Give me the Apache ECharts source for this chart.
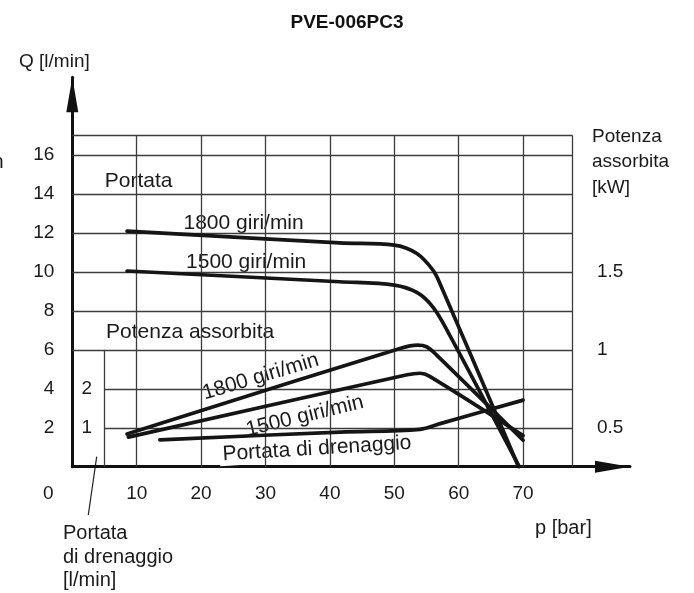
<!DOCTYPE html>
<html>
<head>
<meta charset="utf-8">
<script src="https://cdn.jsdelivr.net/npm/echarts@6/dist/echarts.min.js"></script>
<style>
html,body{margin:0;padding:0;background:#fff;}
#c{width:694px;height:593px;}
</style>
</head>
<body>
<div id="c"></div>
<script>
// ---------- data ----------
// pressure p [bar], flow Q [l/min]
var flow1800 = [[8.5,12.1],[41.5,11.5],[50,11.38],[53.5,10.95],[56,10.1],[57.1,9.4],[69.3,0]];
var flow1500 = [[8.5,10.05],[41.5,9.5],[50,9.33],[53.5,8.95],[56,8.2],[58.2,7.0],[69.4,0]];
// absorbed power [kW]
var power1800 = [[8.5,0.46],[51,1.01],[53.6,1.03],[55,1.02],[56.5,0.97],[70,0.42]];
var power1500 = [[8.7,0.44],[52,0.84],[54,0.85],[55.5,0.83],[70,0.45]];
// drainage flow [l/min]
var drain = [[13.6,0.69],[41.6,0.89],[54,0.96],[57,1.1],[70,1.71]];

var xTicks = [0,10,20,30,40,50,60,70];
var qTicks = [2,4,6,8,10,12,14,16];
var kwTicks = [0.5,1,1.5];
var drainTicks = [1,2];

// ---------- layout helpers ----------
var X_MAX = 86.6, Q_MAX = 20, Q_TOP = 17, X_BORDER = 77.7, DRAIN_AXIS_X = 4.92, DRAIN_AXIS_TOP = 6;
var KW_AT_Q0 = 0.25, KW_PER_Q = 1/8;   // right scale: kW = 0.25 + Q/8
var DRAIN_PER_Q = 0.5;                  // drain scale: l/min = Q/2

var FONT = '"Liberation Sans", Arial, Helvetica, sans-serif';
var TXT = '#1a1a1a', GRID = '#3c3c3c';

// grid lines as marklines
var gridLines = [];
function seg(x1,y1,x2,y2){ gridLines.push([{coord:[x1,y1]},{coord:[x2,y2]}]); }
qTicks.forEach(function(q){
  if (q < DRAIN_AXIS_TOP) seg(DRAIN_AXIS_X,q,X_BORDER,q); else seg(0,q,X_BORDER,q);
});
seg(0,Q_TOP,X_BORDER,Q_TOP);
xTicks.forEach(function(x){ if (x>0) seg(x,0,x,Q_TOP); });
seg(X_BORDER,0,X_BORDER,Q_TOP);
seg(DRAIN_AXIS_X,0,DRAIN_AXIS_X,DRAIN_AXIS_TOP);

// in-plot annotations [text, p, Q, rotate]
var notes = [
  ['Portata', 10.3, 14.64, 0],
  ['1800 giri/min', 26.6, 12.5, 0],
  ['1500 giri/min', 27.0, 10.5, 0],
  ['Potenza assorbita', 18.3, 6.93, 0],
  ['1800 giri/min', 29.25, 4.62, 16.7],
  ['1500 giri/min', 36.1, 2.6, 13.7],
  ['Portata di drenaggio', 38.0, 0.92, 3.5]
];

var chart = echarts.init(document.getElementById('c'), null, {renderer:'canvas'});

function curve(name, data, yIdx){
  return {
    name:name, type:'line', data:data, xAxisIndex:0, yAxisIndex:yIdx,
    smooth:0.35, symbol:'none', z:6, animation:false, silent:true,
    lineStyle:{color:'#151515', width:3.7, cap:'round', join:'round'}
  };
}

var option = {
  backgroundColor:'#fff',
  animation:false,
  textStyle:{fontFamily:FONT, color:TXT},
  title:{
    text:'PVE-006PC3', left:'center', top:8,
    textStyle:{fontFamily:FONT, fontWeight:'bold', fontSize:19, color:'#111'}
  },
  grid:{left:72.3, right:64, top:77.3, bottom:126.3, outerBoundsMode:'none', containLabel:false},
  xAxis:{
    type:'value', min:0, max:X_MAX, interval:10,
    axisLine:{show:true, lineStyle:{color:'#111', width:3}, symbol:['none','triangle'], symbolSize:[12,35], symbolOffset:[0,-17.5]},
    axisTick:{show:false}, splitLine:{show:false},
    axisLabel:{
      customValues:xTicks, fontSize:19, color:TXT, fontFamily:FONT, margin:18,
      formatter:function(v){ return v===0 ? '{z|0}' : String(v); },
      rich:{z:{fontSize:19, color:TXT, fontFamily:FONT, padding:[0,48,0,0]}}
    }
  },
  yAxis:[
    {
      type:'value', min:0, max:Q_MAX, interval:2, position:'left',
      axisLine:{show:true, lineStyle:{color:'#111', width:3}, symbol:['none','triangle'], symbolSize:[12,35], symbolOffset:[0,-17.5]},
      axisTick:{show:false}, splitLine:{show:false},
      axisLabel:{customValues:qTicks, fontSize:19, color:TXT, fontFamily:FONT, margin:18}
    },
    {
      type:'value', position:'right', offset:-57,
      min:KW_AT_Q0, max:KW_AT_Q0 + Q_MAX*KW_PER_Q,
      axisLine:{show:false}, axisTick:{show:false}, splitLine:{show:false},
      axisLabel:{customValues:kwTicks, fontSize:19, color:TXT, fontFamily:FONT, margin:24}
    },
    {
      type:'value', position:'left', offset:-31.7,
      min:0, max:Q_MAX*DRAIN_PER_Q,
      axisLine:{show:false}, axisTick:{show:false}, splitLine:{show:false},
      axisLabel:{customValues:drainTicks, fontSize:19, color:TXT, fontFamily:FONT, margin:12}
    }
  ],
  series:[
    {
      type:'line', data:[], xAxisIndex:0, yAxisIndex:0, z:1, silent:true, animation:false,
      markLine:{silent:true, animation:false, symbol:['none','none'], label:{show:false},
        lineStyle:{type:'solid', color:GRID, width:1.3}, emphasis:{disabled:true},
        data:gridLines}
    },
    {
      type:'scatter', xAxisIndex:0, yAxisIndex:0, z:3, silent:true, animation:false,
      symbolSize:0.1, itemStyle:{color:'rgba(0,0,0,0)', opacity:1},
      label:{show:true, position:'inside', fontSize:21, color:TXT, opacity:1, fontFamily:FONT,
        backgroundColor:'#fff', padding:[1,3,1,3]},
      data:notes.map(function(n){
        return {value:[n[1],n[2]], label:{formatter:n[0], rotate:n[3]}};
      })
    },
    curve('Portata 1800', flow1800, 0),
    curve('Portata 1500', flow1500, 0),
    curve('Potenza 1800', power1800, 1),
    curve('Potenza 1500', power1500, 1),
    curve('Portata di drenaggio', drain, 2)
  ],
  graphic:[
    {type:'text', left:19, top:52, style:{text:'Q [l/min]', font:'19px '+FONT, fill:TXT}},
    {type:'text', left:592, top:124, style:{text:'Potenza\nassorbita\n[kW]', font:'19px '+FONT, fill:TXT, lineHeight:25.5}},
    {type:'text', left:535, top:518, style:{text:'p [bar]', font:'20px '+FONT, fill:TXT}},
    {type:'text', left:63, top:522, style:{text:'Portata\ndi drenaggio\n[l/min]', font:'20px '+FONT, fill:TXT, lineHeight:23.5}},
    {type:'text', right:690.5, top:152, style:{text:'n', font:'20px '+FONT, fill:TXT}},
    {type:'line', shape:{x1:96.7, y1:456.7, x2:88.3, y2:515}, style:{stroke:'#222', lineWidth:1.2}}
  ]
};
chart.setOption(option);
</script>
</body>
</html>
